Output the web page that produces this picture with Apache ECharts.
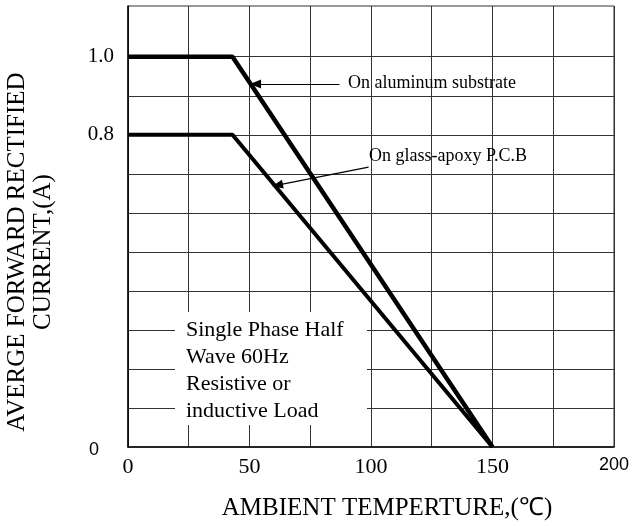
<!DOCTYPE html>
<html>
<head>
<meta charset="utf-8">
<script src="https://cdn.jsdelivr.net/npm/echarts@6/dist/echarts.min.js"></script>
<style>
html,body{margin:0;padding:0;background:#fff;}
#chart{width:632px;height:526px;}
</style>
</head>
<body>
<div id="chart"></div>
<script>
// ---- data ----
const temps = [0, 43, 150];
const aluminum = [1.0, 1.0, 0];
const glassEpoxy = [0.8, 0.8, 0];
const gridValues = [0.1, 0.2, 0.3, 0.4, 0.5, 0.6, 0.7, 0.8, 0.9, 1.0];
const yLabels = { '0': '0', '0.8': '0.8', '1': '1.0' };
const xLabels = [0, 50, 100, 150, 200];
const aluminumArrow = [[87, 0.93], [52.5, 0.93]];
const glassArrow = [[99, 0.717], [61.5, 0.671]];
const yTitle = ['AVERGE FORWARD RECTIFIED', 'CURRENT,(A)'];
const xTitle = 'AMBIENT TEMPERTURE,(\u2103)';
const noteLines = ['Single Phase Half', 'Wave 60Hz', 'Resistive or', 'inductive Load'];

const serif = "'Liberation Serif','Times New Roman',serif";
const sans = "'Liberation Sans',Arial,sans-serif";

const chart = echarts.init(document.getElementById('chart'), null, { renderer: 'canvas' });

function pair(xs, ys) { return xs.map((x, i) => [x, ys[i]]); }

const option = {
  animation: false,
  backgroundColor: '#fff',
  grid: { left: 128, right: 12, top: 6, bottom: 79, show: true, borderColor: '#333', borderWidth: 1, backgroundColor: 'transparent' },
  xAxis: {
    type: 'value', min: 0, max: 200, interval: 25,
    axisLine: { show: true, lineStyle: { color: '#000', width: 1.5 } },
    axisTick: { show: false },
    splitLine: { show: true, lineStyle: { color: '#333', width: 1 } },
    axisLabel: {
      margin: 9, color: '#000',
      formatter: v => xLabels.indexOf(v) < 0 ? '' : (v === 200 ? '{s|200}' : '{t|' + v + '}'),
      rich: {
        t: { fontFamily: serif, fontSize: 22, color: '#000' },
        s: { fontFamily: sans, fontSize: 18, color: '#000' }
      }
    }
  },
  yAxis: {
    type: 'value', min: 0, max: 1.13, interval: 0.1,
    axisLine: { show: true, lineStyle: { color: '#000', width: 1.5 } },
    axisTick: { show: false },
    splitLine: { show: false },
    axisLabel: {
      margin: 14, color: '#000', showMaxLabel: false,
      formatter: v => {
        const k = String(Math.round(v * 10) / 10);
        if (!(k in yLabels)) return '';
        return k === '0' ? '{s|' + yLabels[k] + '}' : '{t|' + yLabels[k] + '}';
      },
      rich: {
        t: { fontFamily: serif, fontSize: 21, color: '#000' },
        s: { fontFamily: sans, fontSize: 18, color: '#000', padding: [6, 15, 0, 0] }
      }
    }
  },
  series: [
    {
      name: 'grid', type: 'line', data: [], silent: true,
      markLine: {
        silent: true, symbol: 'none', label: { show: false },
        lineStyle: { color: '#333', width: 1, type: 'solid' },
        data: gridValues.map(v => ({ yAxis: v }))
      }
    },
    {
      name: 'On aluminum substrate', type: 'line', data: pair(temps, aluminum),
      symbol: 'none', z: 5, lineStyle: { color: '#000', width: 4.5 },
      markLine: {
        silent: true, symbol: ['none', 'triangle'], symbolSize: [9, 11],
        label: { show: false },
        lineStyle: { color: '#000', width: 1.2, type: 'solid' },
        data: [[{ coord: aluminumArrow[0] }, { coord: aluminumArrow[1] }]]
      }
    },
    {
      name: 'On glass-apoxy P.C.B', type: 'line', data: pair(temps, glassEpoxy),
      symbol: 'none', z: 5, lineStyle: { color: '#000', width: 4 },
      markLine: {
        silent: true, symbol: ['none', 'triangle'], symbolSize: [9, 11],
        label: { show: false },
        lineStyle: { color: '#000', width: 1.2, type: 'solid' },
        data: [[{ coord: glassArrow[0] }, { coord: glassArrow[1] }]]
      }
    }
  ],
  graphic: [
    { type: 'rect', z: 50, shape: { x: 175, y: 312, width: 192, height: 113 }, style: { fill: '#fff' } },
    { type: 'text', z: 51, x: 186, y: 317, style: { text: noteLines.join('\n'), font: '22px ' + serif, lineHeight: 27, fill: '#000', textAlign: 'left', textVerticalAlign: 'top' } },
    { type: 'text', z: 51, x: 348, y: 83, style: { text: 'On aluminum substrate', font: '18px ' + serif, fill: '#000', textAlign: 'left', textVerticalAlign: 'middle' } },
    { type: 'text', z: 51, x: 369, y: 156, style: { text: 'On glass-apoxy P.C.B', font: '18px ' + serif, fill: '#000', textAlign: 'left', textVerticalAlign: 'middle' } },
    { type: 'text', z: 51, x: 30, y: 252, rotation: Math.PI / 2, style: { text: yTitle.join('\n'), font: '25px ' + serif, lineHeight: 26, fill: '#000', textAlign: 'center', textVerticalAlign: 'middle' } },
    { type: 'text', z: 51, x: 387, y: 508, style: { text: xTitle, font: '25px ' + serif, fill: '#000', textAlign: 'center', textVerticalAlign: 'middle' } }
  ]
};
chart.setOption(option);
</script>
</body>
</html>
